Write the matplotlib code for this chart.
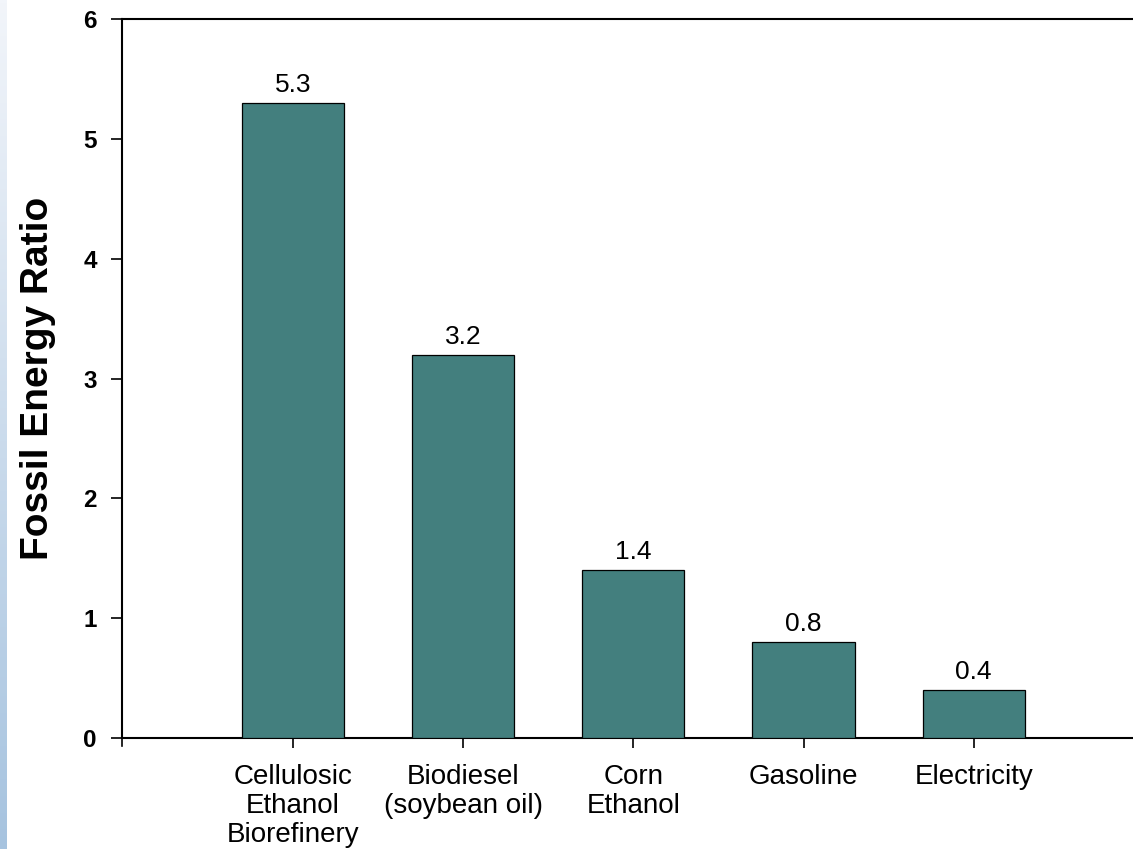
import matplotlib
matplotlib.use("Agg")
import matplotlib.pyplot as plt
import numpy as np
from matplotlib.colors import LinearSegmentedColormap

categories = ["Cellulosic\nEthanol\nBiorefinery", "Biodiesel\n(soybean oil)", "Corn\nEthanol", "Gasoline", "Electricity"]
values = [5.3, 3.2, 1.4, 0.8, 0.4]
value_labels = ["5.3", "3.2", "1.4", "0.8", "0.4"]
yticks = [0, 1, 2, 3, 4, 5, 6]

plt.rcParams['font.family'] = ['Liberation Sans', 'DejaVu Sans']

fig = plt.figure(figsize=(11.33, 8.49), dpi=100)

# left gradient strip
strip = fig.add_axes([0, 0, 6/1133, 1])
grad = np.linspace(0, 1, 256).reshape(-1, 1)
cmap = LinearSegmentedColormap.from_list("s", ["#f2f5fa", "#a6c3df"])
strip.imshow(grad, aspect='auto', cmap=cmap, extent=[0, 1, 0, 1], origin='upper')
strip.axis('off')

ax = fig.add_axes([122/1133, 1 - 738/849, 1 - 122/1133 + 0.002, (738 - 19)/849])
x = np.arange(len(categories))
ax.bar(x, values, width=0.6, color="#437f7e", edgecolor="black", linewidth=0.9, zorder=3)
for xi, v, lab in zip(x, values, value_labels):
    ax.text(xi, v + 0.05, lab, ha='center', va='bottom', fontsize=19)

ax.set_xlim(-1.006, 4.95)
ax.set_ylim(0, 6)
ax.set_yticks(yticks)
ax.set_yticklabels([str(t) for t in yticks], fontsize=17.5, fontweight='bold')
ax.set_xticks(list(x))
ax.set_xticklabels(categories, fontsize=20, linespacing=1.13)
ax.tick_params(axis='y', direction='out', length=8, width=1.2, pad=10)
ax.tick_params(axis='x', direction='out', length=7, width=1.2, pad=12)
ax.plot([-1.006, -1.006], [0, -0.07], color='black', lw=1.2, clip_on=False)
ax.spines['right'].set_visible(False)
for s in ['left', 'top', 'bottom']:
    ax.spines[s].set_linewidth(1.5)
ax.set_ylabel("Fossil Energy Ratio", fontsize=28, fontweight='bold', labelpad=20)

fig.savefig("out.png", dpi=100)
